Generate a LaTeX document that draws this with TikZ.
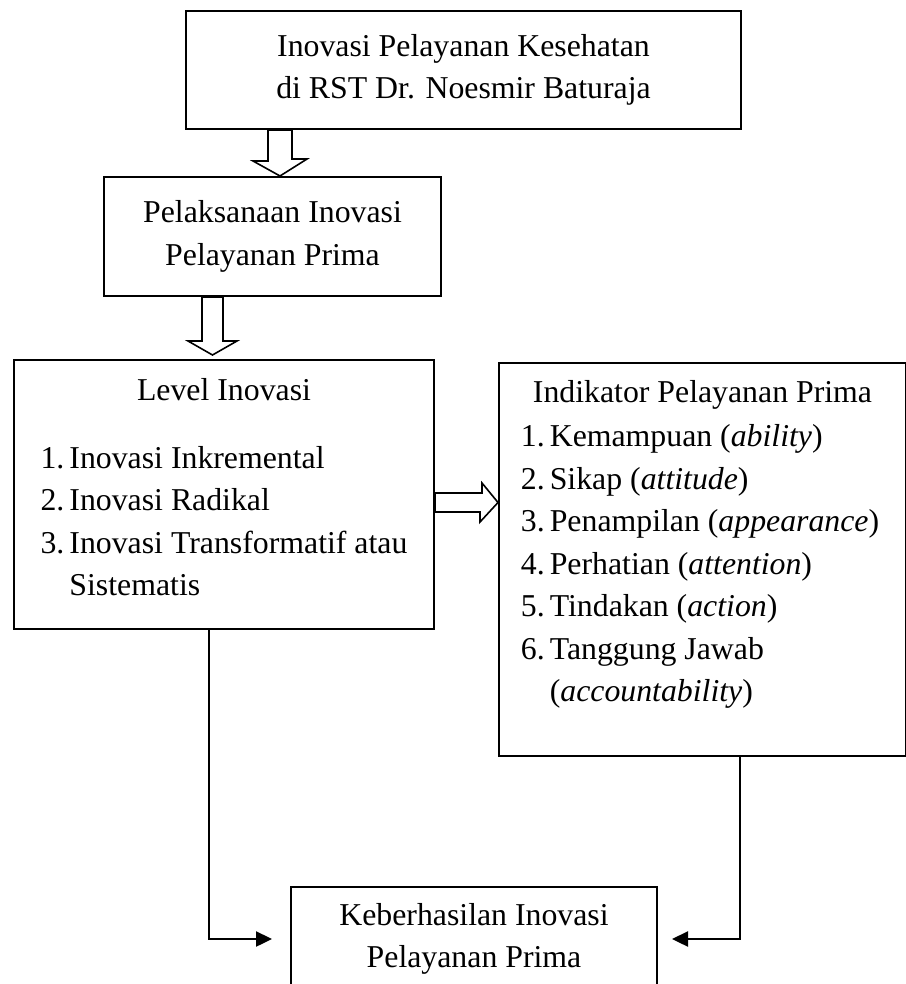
\documentclass[tikz,border=0pt]{standalone}
\usepackage{fontspec}
\setmainfont{Liberation Serif}
\usetikzlibrary{arrows.meta}

\tikzset{
  box/.style={draw,line width=1pt,anchor=north west,inner sep=0pt,align=center,
    font=\fontsize{15.9}{21.25}\selectfont},
  blockarrow/.style={draw,line width=0.8pt,fill=white},
  link/.style={line width=1.2pt,-{Triangle[length=8pt,width=7.5pt]}}
}

\begin{document}
\begin{tikzpicture}[x=0.5pt,y=-0.5pt]
\useasboundingbox (0,0) rectangle (905,984);
% boxes
\node[box,minimum width=277.5pt,minimum height=59pt] (top) at (185,10)
  {Inovasi Pelayanan Kesehatan\\di RST Dr. Noesmir Baturaja};
\node[box,minimum width=168.5pt,minimum height=59.5pt] (mid) at (103,176)
  {Pelaksanaan Inovasi\\Pelayanan Prima};
\node[box,minimum width=210pt,text height=20pt,text depth=114.5pt] (lvl) at (13,359)
  {\begin{tabular}[t]{@{}l@{\hspace{2.5pt}}l@{}}
   \multicolumn{2}{c}{Level Inovasi}\\[12.75pt]
   1. & Inovasi Inkremental\\
   2. & Inovasi Radikal\\
   3. & Inovasi Transformatif atau\\
      & Sistematis
   \end{tabular}};
\node[box,minimum width=203.5pt,text height=19.5pt,text depth=177pt] (ind) at (498,362)
  {\begin{tabular}[t]{@{}l@{\hspace{2.5pt}}l@{}}
   \multicolumn{2}{c}{Indikator Pelayanan Prima}\\[1pt]
   1. & Kemampuan (\textit{ability})\\
   2. & Sikap (\textit{attitude})\\
   3. & Penampilan (\textit{appearance})\\
   4. & Perhatian (\textit{attention})\\
   5. & Tindakan (\textit{action})\\
   6. & Tanggung Jawab\\
      & (\textit{accountability})
   \end{tabular}};
\node[box,minimum width=183pt,minimum height=52pt] (res) at (290,886)
  {Keberhasilan Inovasi\\Pelayanan Prima};
% hollow arrows
\draw[blockarrow] (top.south -| 268,0) -- ++(0,31) -- ++(-15,0) -- (mid.north -| 280,0)
  -- ++(27,-17) -- ++(-15,0) -- (top.south -| 292,0) -- cycle;
\draw[blockarrow] (mid.south -| 202,0) -- ++(0,44) -- ++(-14,0) -- ++(24.5,14)
  -- ++(24.5,-14) -- ++(-14,0) -- (mid.south -| 223,0) -- cycle;
\draw[blockarrow] (lvl.east |- 0,493) -- ++(47,0) -- ++(0,-10) -- (ind.west |- 0,502.5)
  -- ++(-18,19.5) -- ++(0,-10) -- (lvl.east |- 0,512) -- cycle;
% connectors
\draw[link] ([xshift=-7.5pt]lvl.south) |- ([xshift=-9pt]res.west);
\draw[link] ([xshift=18.75pt]ind.south) |- ([xshift=7pt]res.east);
\end{tikzpicture}
\end{document}
